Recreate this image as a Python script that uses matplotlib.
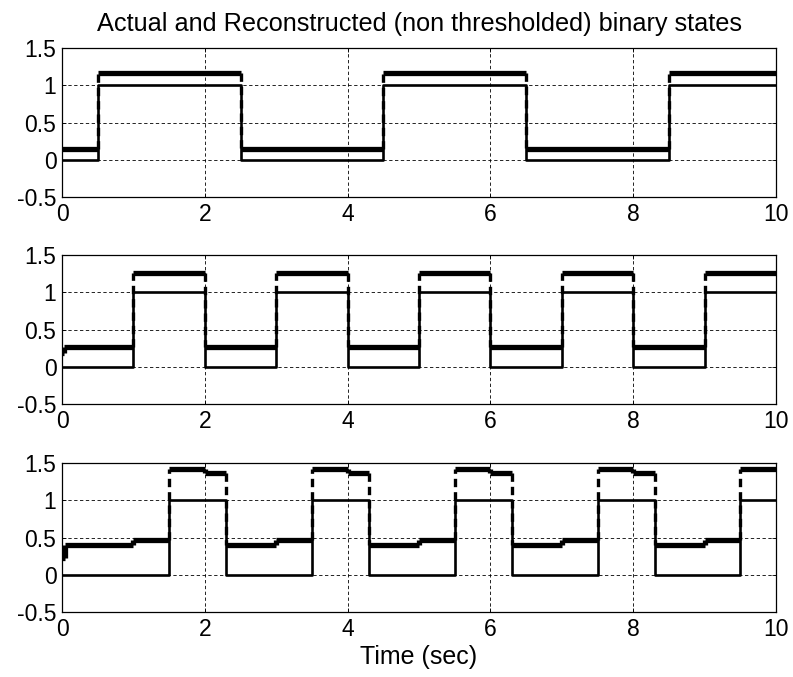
import matplotlib
matplotlib.use("Agg")
import matplotlib.pyplot as plt

plt.rcParams['font.family'] = ['Liberation Sans', 'DejaVu Sans']

title = "Actual and Reconstructed (non thresholded) binary states"
xlabel = "Time (sec)"
xticks = [0, 2, 4, 6, 8, 10]
yticks = [-0.5, 0, 0.5, 1, 1.5]
ytick_labels = ["-0.5", "0", "0.5", "1", "1.5"]

# actual binary state: switch times and level held after each switch
act1_t = [0, 0.5, 2.5, 4.5, 6.5, 8.5, 10]
act1_y = [0, 1, 0, 1, 0, 1]
act2_t = [0, 1, 2, 3, 4, 5, 6, 7, 8, 9, 10]
act2_y = [0, 1, 0, 1, 0, 1, 0, 1, 0, 1]
act3_t = [0, 1.5, 2.3, 3.5, 4.3, 5.5, 6.3, 7.5, 8.3, 9.5, 10]
act3_y = [0, 1, 0, 1, 0, 1, 0, 1, 0, 1]

# reconstructed (non thresholded) state
rec1_t = [0, 0.5, 2.5, 4.5, 6.5, 8.5, 10]
rec1_y = [0.15, 1.16, 0.15, 1.16, 0.15, 1.16]
rec2_t = [0, 0.03, 1, 2, 3, 4, 5, 6, 7, 8, 9, 10]
rec2_y = [0.18, 0.26, 1.26, 0.26, 1.26, 0.26, 1.26, 0.26, 1.26, 0.26, 1.26]
rec3_t = [0, 0.04, 1.0, 1.5, 2.0, 2.3, 3.0, 3.5, 4.0, 4.3, 5.0, 5.5, 6.0,
          6.3, 7.0, 7.5, 8.0, 8.3, 9.0, 9.5, 10]
rec3_y = [0.22, 0.40, 0.47, 1.42, 1.36, 0.40, 0.47, 1.42, 1.36, 0.40, 0.47,
          1.42, 1.36, 0.40, 0.47, 1.42, 1.36, 0.40, 0.47, 1.42]

panels = [(act1_t, act1_y, rec1_t, rec1_y),
          (act2_t, act2_y, rec2_t, rec2_y),
          (act3_t, act3_y, rec3_t, rec3_y)]

fig = plt.figure(figsize=(7.93, 6.77), dpi=100)
bottoms = [0.709, 0.4032, 0.096]

for i, (at, ay, rt, ry) in enumerate(panels):
    ax = fig.add_axes([0.0782, bottoms[i], 0.9004, 0.220])

    # reconstructed: thick flat parts, sparse dotted jumps
    ax.hlines(ry, rt[:-1], rt[1:], colors='k', linewidth=3.8, zorder=3)
    for k in range(1, len(ry)):
        big = abs(ry[k] - ry[k - 1]) > 0.3
        ax.vlines(rt[k], ry[k - 1], ry[k], colors='k',
                  linewidth=2.4 if big else 3.8,
                  linestyles=(0, (2.5, 1.5)) if big else '-', zorder=3)

    # actual state
    ax.step(at, list(ay) + [ay[-1]], where='post', color='k', linewidth=1.9, zorder=4)

    ax.set_xlim(0, 10)
    ax.set_ylim(-0.5, 1.5)
    ax.set_xticks(xticks)
    ax.set_yticks(yticks)
    ax.set_yticklabels(ytick_labels)
    ax.grid(True, color='k', linestyle=(0, (4, 3)), linewidth=0.6)
    ax.tick_params(direction='in', length=3, width=0.6, labelsize=16.5,
                   top=True, right=True, pad=4)
    for sp in ax.spines.values():
        sp.set_linewidth(0.9)
    if i == 0:
        ax.set_title(title, fontsize=18.2, pad=12)
    if i == 2:
        ax.set_xlabel(xlabel, fontsize=18, labelpad=3)

fig.savefig("out.png", dpi=100)
